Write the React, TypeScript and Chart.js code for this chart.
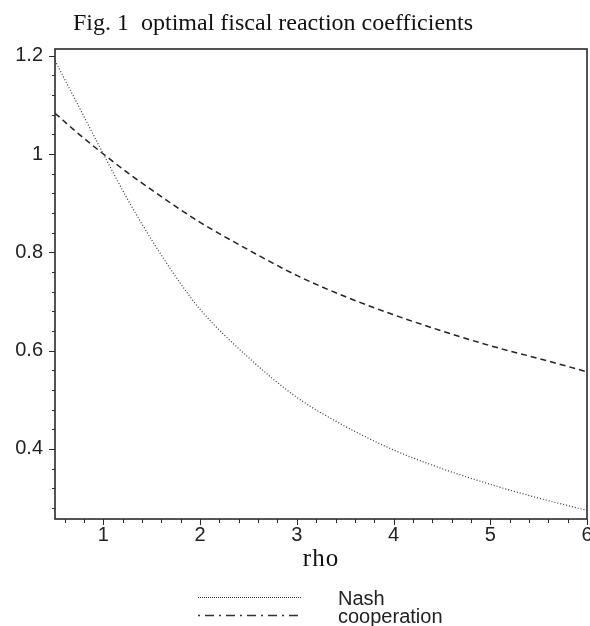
import React, { useEffect, useRef } from "react";
import { Chart, registerables } from "chart.js";

Chart.register(...registerables);

const rho = [0.5, 0.75, 1, 1.25, 1.5, 1.75, 2, 2.5, 3, 3.5, 4, 4.5, 5, 5.5, 6];
const nash = [1.19, 1.095, 1.0, 0.908, 0.825, 0.75, 0.684, 0.586, 0.505, 0.446, 0.398, 0.36, 0.328, 0.3, 0.275];
const cooperation = [1.083, 1.04, 1.0, 0.962, 0.927, 0.893, 0.861, 0.805, 0.753, 0.71, 0.673, 0.64, 0.61, 0.584, 0.557];
const xTicks = [1, 2, 3, 4, 5, 6];
const yTicks = [0.4, 0.6, 0.8, 1, 1.2];
const titleText = "Fig. 1  optimal fiscal reaction coefficients";
const xTitle = "rho";
const legendLabels = ["Nash", "cooperation"];

const AXIS = "#2a2a2a";
const SANS = "'Liberation Sans', Arial, sans-serif";
const SERIF = "'Liberation Serif', 'Times New Roman', serif";

const decor = {
  id: "decor",
  afterDraw(chart: any) {
    const { ctx, chartArea: a, scales } = chart;
    const xs = scales.x;
    const ys = scales.y;
    ctx.save();
    // frame
    ctx.strokeStyle = AXIS;
    ctx.lineWidth = 1.6;
    ctx.setLineDash([]);
    ctx.strokeRect(a.left, a.top, a.right - a.left, a.bottom - a.top);
    // y ticks
    ctx.lineWidth = 1;
    for (let i = 7; i <= 30; i++) {
      const v = i * 0.04;
      const major = i % 5 === 0;
      const py = Math.round(ys.getPixelForValue(v)) + 0.5;
      ctx.beginPath();
      ctx.moveTo(a.left, py);
      ctx.lineTo(a.left - (major ? 6 : 3), py);
      ctx.stroke();
    }
    // x ticks
    for (let i = 3; i <= 30; i++) {
      const v = i * 0.2;
      const major = i % 5 === 0;
      const px = Math.round(xs.getPixelForValue(v)) + 0.5;
      ctx.beginPath();
      ctx.moveTo(px, a.bottom);
      ctx.lineTo(px, a.bottom + (major ? 6 : 4));
      ctx.stroke();
    }
    // title
    ctx.fillStyle = "#111";
    ctx.font = `24px ${SERIF}`;
    ctx.textAlign = "left";
    ctx.textBaseline = "alphabetic";
    ctx.fillText(titleText, 73, 30);
    // x title
    ctx.font = `25px ${SERIF}`;
    (ctx as any).letterSpacing = "1px";
    ctx.textAlign = "center";
    ctx.fillText(xTitle, 321, 566);
    (ctx as any).letterSpacing = "0px";
    // legend
    ctx.strokeStyle = "#333";
    ctx.lineWidth = 1;
    ctx.setLineDash([1, 1]);
    ctx.beginPath();
    ctx.moveTo(198, 597.5);
    ctx.lineTo(302, 597.5);
    ctx.stroke();
    ctx.lineWidth = 1.3;
    ctx.setLineDash([2, 5, 9, 5]);
    ctx.beginPath();
    ctx.moveTo(198, 615.5);
    ctx.lineTo(302, 615.5);
    ctx.stroke();
    ctx.setLineDash([]);
    ctx.font = `20px ${SANS}`;
    ctx.textAlign = "left";
    ctx.textBaseline = "middle";
    ctx.fillStyle = "#222";
    ctx.fillText(legendLabels[0], 338, 599);
    ctx.fillText(legendLabels[1], 338, 617);
    ctx.restore();
  },
};

export default function App() {
  const ref = useRef<HTMLCanvasElement>(null);
  useEffect(() => {
    const chart = new Chart(ref.current!, {
      type: "line",
      data: {
        datasets: [
          {
            label: legendLabels[0],
            data: rho.map((r, i) => ({ x: r, y: nash[i] })),
            borderColor: "#333",
            borderWidth: 1.2,
            borderDash: [1, 2],
            pointRadius: 0,
            cubicInterpolationMode: "monotone",
            fill: false,
          },
          {
            label: legendLabels[1],
            data: rho.map((r, i) => ({ x: r, y: cooperation[i] })),
            borderColor: "#222",
            borderWidth: 1.5,
            borderDash: [6, 4],
            pointRadius: 0,
            cubicInterpolationMode: "monotone",
            fill: false,
          },
        ],
      },
      options: {
        animation: false,
        responsive: false,
        devicePixelRatio: 1,
        layout: { padding: { top: 49, right: 3, left: 0, bottom: 0 } },
        plugins: { legend: { display: false }, tooltip: { enabled: false }, title: { display: false } },
        scales: {
          x: {
            type: "linear",
            min: 0.5,
            max: 6,
            grid: { display: false, drawTicks: true, tickLength: 0 },
            border: { display: false },
            afterBuildTicks: (s: any) => {
              s.ticks = xTicks.map((v) => ({ value: v }));
            },
            afterFit: (s: any) => {
              s.height = 107;
              s.paddingLeft = 0;
              s.paddingRight = 0;
            },
            ticks: {
              padding: 4,
              color: "#222",
              font: { family: SANS, size: 20 },
              maxRotation: 0,
              autoSkip: false,
              callback: (v: any) => String(v),
            },
          },
          y: {
            type: "linear",
            min: 0.2575,
            max: 1.2136,
            grid: { display: false, drawTicks: true, tickLength: 7 },
            border: { display: false },
            afterBuildTicks: (s: any) => {
              s.ticks = yTicks.map((v) => ({ value: v }));
            },
            afterFit: (s: any) => {
              s.width = 55;
              s.paddingTop = 0;
              s.paddingBottom = 0;
            },
            ticks: {
              padding: 5,
              color: "#222",
              font: { family: SANS, size: 20 },
              autoSkip: false,
              callback: (v: any) => String(Math.round(v * 10) / 10),
            },
          },
        },
      },
      plugins: [decor],
    });
    return () => chart.destroy();
  }, []);
  return (
    <div style={{ position: "fixed", left: 0, top: 0, width: 590, height: 626, background: "#fff" }}>
      <canvas ref={ref} width={590} height={626} style={{ display: "block" }} />
    </div>
  );
}
